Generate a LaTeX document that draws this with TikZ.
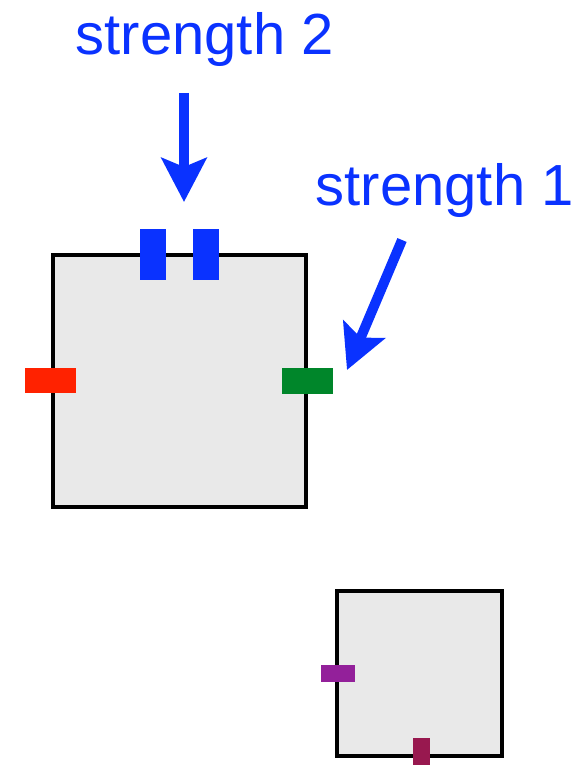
\documentclass[tikz,border=0pt]{standalone}
\usepackage{fontspec}
\setmainfont{Liberation Sans}
\usetikzlibrary{arrows.meta}
\definecolor{strblue}{HTML}{0A32FF}
\definecolor{padred}{HTML}{FF2200}
\definecolor{padgreen}{HTML}{00862A}
\definecolor{padpurple}{HTML}{93209A}
\definecolor{padmaroon}{HTML}{98184F}
\definecolor{boxgray}{HTML}{E9E9E9}
\begin{document}
\begin{tikzpicture}[x=1pt,y=1pt,
  cell/.style={draw=black,fill=boxgray,line width=4pt,inner sep=0pt},
  pad/.style={inner sep=0pt,outer sep=0pt},
  lbl/.style={text=strblue,inner sep=0pt,anchor=base west,font=\fontsize{58}{61}\selectfont},
  arr/.style={draw=strblue,line width=10pt,-{Stealth[length=44pt,width=45pt,inset=9pt]}}]
\useasboundingbox (0,0) rectangle (583,-765);

% Large cell with its pads
\node[cell,minimum width=252.5pt,minimum height=252pt] (big) at (179.25,-380.5) {};
\node[pad,fill=strblue,minimum width=26pt,minimum height=51pt] (padA) at (153,-254.5) {};
\node[pad,fill=strblue,minimum width=26pt,minimum height=51pt] (padB) at (206,-254.5) {};
\node[pad,fill=padred,minimum width=51pt,minimum height=25pt] (padW) at (50.5,-380.5) {};
\node[pad,fill=padgreen,minimum width=51pt,minimum height=26pt] (padE) at (307.5,-381) {};

% Small cell with its pads
\node[cell,minimum width=165pt,minimum height=165pt] (small) at (419.5,-673) {};
\node[pad,fill=padpurple,minimum width=34pt,minimum height=17pt] (padS) at (338,-673.5) {};
\node[pad,fill=padmaroon,minimum width=17pt,minimum height=34pt] (padT) at (421.5,-755) {};

% Labels and arrows
\node[lbl] (str2) at (75.5,-55) {strength 2};
\node[lbl] (str1) at (315.5,-205) {strength 1};
\coordinate (from2) at (184,-93);
\coordinate (tip2) at (184,-202);
\coordinate (from1) at (402,-240);
\coordinate (tip1) at (347,-370);
\draw[arr] (from2) -- (tip2);
\draw[arr] (from1) -- (tip1);

\end{tikzpicture}
\end{document}
